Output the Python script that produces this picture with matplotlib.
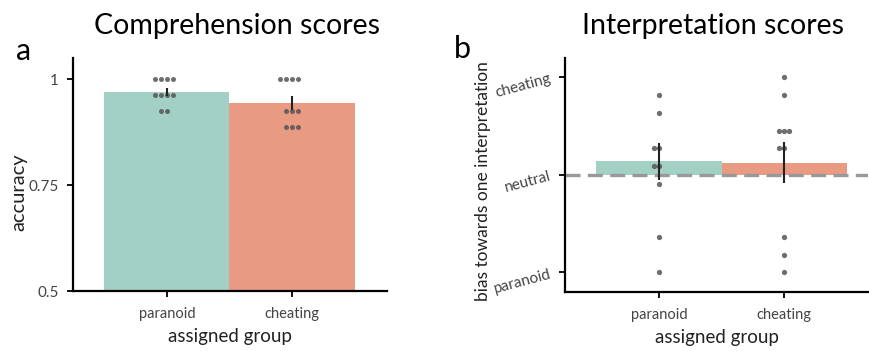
import numpy as np
import matplotlib
matplotlib.use("Agg")
import matplotlib.pyplot as plt

plt.rcParams['font.family'] = ['Lato', 'DejaVu Sans']

groups = ["paranoid", "cheating"]
colors = ["#a3d0c4", "#e99a83"]

# panel a: comprehension accuracy per participant
acc_paranoid = [1, 1, 1, 1, 0.9625, 0.9625, 0.9625, 0.9625, 0.925, 0.925]
acc_cheating = [1, 1, 1, 1, 0.925, 0.925, 0.925, 0.8875, 0.8875, 0.8875]

# panel b: interpretation bias (-1 paranoid ... 1 cheating)
bias_paranoid = [0.818, 0.636, 0.273, 0.273, 0.091, 0.091, -0.091, -0.636, -1.0]
bias_cheating = [1.0, 0.818, 0.455, 0.455, 0.455, 0.273, 0.273, -0.636, -0.818, -1.0]
bias_means = [0.142, 0.127]
bias_sem = [0.19, 0.21]


def swarm(ax, x0, vals, d, ms):
    vals = np.asarray(vals)
    for v in np.unique(vals):
        n = np.sum(vals == v)
        offs = (np.arange(n) - n // 2) * d
        ax.plot(x0 + offs, np.full(n, v), 'o', color='#555555', alpha=0.85,
                ms=ms, mec='none', zorder=3)


def style(ax):
    for s in ['top', 'right']:
        ax.spines[s].set_visible(False)
    for s in ['left', 'bottom']:
        ax.spines[s].set_linewidth(1.6)
    ax.tick_params(width=1.3, length=4, colors='black', labelcolor='#444444')
    ax.tick_params(axis='x', labelsize=10.5, pad=7.5)
    ax.tick_params(axis='y', labelsize=11, pad=6)


fig = plt.figure(figsize=(8.7, 3.51), dpi=100)

# ---- panel a
ax1 = fig.add_axes([0.0839, 0.1709, 0.361, 0.664])
acc = [acc_paranoid, acc_cheating]
x = np.arange(len(groups))
means = [np.mean(a) for a in acc]
sems = [np.std(a, ddof=1) / np.sqrt(len(a)) for a in acc]
ax1.bar(x, means, width=1.0, color=colors, zorder=1)
for i, a in enumerate(acc):
    swarm(ax1, x[i], a, 0.048, 3.6)
ax1.errorbar(x, means, yerr=sems, fmt='none', ecolor='#222222', elinewidth=1.5,
             zorder=4)
ax1.set_ylim(0.5, 1.05)
ax1.set_xlim(-0.75, 1.76)
ax1.set_yticks([0.5, 0.75, 1])
ax1.set_yticklabels(['0.5', '0.75', '1'])
ax1.set_xticks(x)
ax1.set_xticklabels(groups)
style(ax1)
ax1.set_ylabel("accuracy", fontsize=14.5, color='#222222')
ax1.yaxis.set_label_coords(-0.146, 0.425)
ax1.set_xlabel("assigned group", fontsize=13.5, color='#222222', labelpad=5)
fig.text(0.272, 0.925, "Comprehension scores", fontsize=20.5, ha='center', va='center')
fig.text(0.027, 0.855, "a", fontsize=22, ha='center', va='center')

# ---- panel b
ax2 = fig.add_axes([0.6494, 0.1681, 0.3485, 0.667])
bias = [bias_paranoid, bias_cheating]
ax2.bar(x, bias_means, width=1.0, color=colors, zorder=1)
ax2.axhline(0, color='#999999', lw=2.4, ls=(0, (4.5, 2.2)), zorder=2)
for i, b in enumerate(bias):
    swarm(ax2, x[i], b, 0.04, 3.8)
ax2.errorbar(x, bias_means, yerr=bias_sem, fmt='none', ecolor='#222222',
             elinewidth=1.5, zorder=4)
ax2.set_ylim(-1.2, 1.2)
ax2.set_xlim(-0.75, 1.67)
ax2.set_yticks([-1, 0, 1])
ax2.set_yticklabels(['paranoid', 'neutral', 'cheating'], rotation=15)
ax2.set_xticks(x)
ax2.set_xticklabels(groups)
style(ax2)
ax2.tick_params(axis='y', pad=5)
ax2.set_ylabel("bias towards one interpretation", fontsize=12.5, color='#222222')
ax2.yaxis.set_label_coords(-0.244, 0.472)
ax2.set_xlabel("assigned group", fontsize=13.5, color='#222222', labelpad=5)
fig.text(0.82, 0.925, "Interpretation scores", fontsize=20.5, ha='center', va='center')
fig.text(0.532, 0.86, "b", fontsize=22, ha='center', va='center')

fig.savefig("out.png", dpi=100)
